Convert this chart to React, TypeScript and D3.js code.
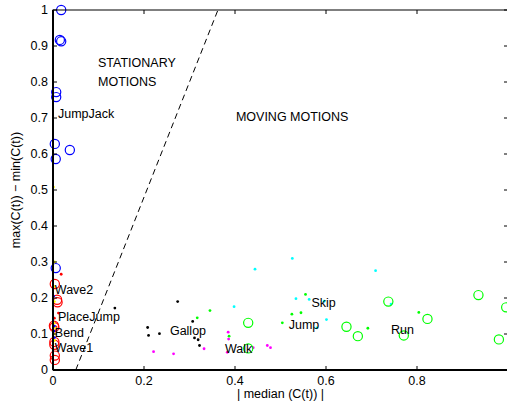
import React, { useEffect, useRef } from 'react';
import * as d3 from 'd3';

type Pt = [number, number];

// JumpJack (blue circles)
const jumpJack: Pt[] = [
  [0.018, 1.0], [0.015, 0.917], [0.018, 0.913], [0.007, 0.772], [0.007, 0.758],
  [0.004, 0.628], [0.037, 0.611], [0.006, 0.586], [0.006, 0.283],
];
// Wave1 / Wave2 / Bend (red circles)
const waveCircles: Pt[] = [
  [0.004, 0.239], [0.009, 0.195], [0.01, 0.188], [0.002, 0.123], [0.003, 0.119],
  [0.003, 0.078], [0.003, 0.07], [0.004, 0.04], [0.004, 0.028],
];
// Run (green circles)
const runCircles: Pt[] = [
  [0.429, 0.131], [0.429, 0.06], [0.645, 0.12], [0.67, 0.094], [0.737, 0.19],
  [0.771, 0.096], [0.823, 0.142], [0.935, 0.208], [0.98, 0.085], [0.996, 0.174],
];
// small dots
const redDots: Pt[] = [[0.018, 0.266], [0.003, 0.144], [0.012, 0.158], [0.006, 0.12]];
const yellowDots: Pt[] = [
  [0.001, 0.508], [0.003, 0.3], [0.002, 0.232], [0.003, 0.19], [0.002, 0.13],
  [0.004, 0.118], [0.002, 0.1], [0.003, 0.082],
];
const blueDots: Pt[] = [[0.001, 0.205], [0.003, 0.122], [0.002, 0.108], [0.003, 0.09]];
const gallop: Pt[] = [
  [0.136, 0.172], [0.274, 0.19], [0.208, 0.118], [0.21, 0.096], [0.234, 0.101],
  [0.307, 0.135], [0.311, 0.089], [0.319, 0.084], [0.322, 0.068],
];
const walk: Pt[] = [
  [0.221, 0.051], [0.265, 0.045], [0.332, 0.059], [0.385, 0.105], [0.386, 0.086],
  [0.383, 0.049], [0.44, 0.062], [0.471, 0.068], [0.478, 0.062],
];
const jump: Pt[] = [
  [0.317, 0.145], [0.345, 0.165], [0.387, 0.094], [0.504, 0.131], [0.525, 0.155],
  [0.545, 0.159], [0.555, 0.21], [0.692, 0.116], [0.804, 0.16],
];
const skip: Pt[] = [
  [0.526, 0.31], [0.444, 0.28], [0.398, 0.176], [0.534, 0.198], [0.563, 0.196],
  [0.596, 0.191], [0.709, 0.276], [0.743, 0.183], [0.601, 0.14], [0.58, 0.117],
];

const labels: { text: string; x: number; y: number }[] = [
  { text: 'JumpJack', x: 0.011, y: 0.7 },
  { text: 'Wave2', x: 0.004, y: 0.21 },
  { text: 'PlaceJump', x: 0.011, y: 0.135 },
  { text: 'Bend', x: 0.004, y: 0.093 },
  { text: 'Wave1', x: 0.004, y: 0.049 },
  { text: 'Gallop', x: 0.257, y: 0.098 },
  { text: 'Walk', x: 0.378, y: 0.048 },
  { text: 'Jump', x: 0.518, y: 0.115 },
  { text: 'Skip', x: 0.568, y: 0.175 },
  { text: 'Run', x: 0.743, y: 0.101 },
  { text: 'STATIONARY', x: 0.099, y: 0.843 },
  { text: 'MOTIONS', x: 0.099, y: 0.788 },
  { text: 'MOVING MOTIONS', x: 0.402, y: 0.693 },
];

const boundary: Pt[] = [[0.05, 0], [0.3625, 1]];
const xTicks = [0, 0.2, 0.4, 0.6, 0.8, 1];
const xTickLabels = ['0', '0.2', '0.4', '0.6', '0.8'];
const yTicks = d3.range(0, 1.01, 0.1).map((v) => +v.toFixed(1));

const W = 507;
const H = 409;
const margin = { left: 53, top: 10, right: 508, bottom: 370 };

const App = () => {
  const ref = useRef<SVGSVGElement>(null);

  useEffect(() => {
    const svg = d3.select(ref.current);
    svg.selectAll('*').remove();
    const font = '"Liberation Sans", Arial, Helvetica, sans-serif';

    const x = d3.scaleLinear().domain([0, 1]).range([margin.left, margin.right]);
    const y = d3.scaleLinear().domain([0, 1]).range([margin.bottom, margin.top]);

    svg.append('rect').attr('width', W).attr('height', H).attr('fill', '#fff');

    const plot = svg.append('g');

    // separation line
    plot
      .append('path')
      .attr('d', d3.line<Pt>().x((d) => x(d[0])).y((d) => y(d[1]))(boundary))
      .attr('stroke', '#000')
      .attr('fill', 'none')
      .attr('stroke-dasharray', '6,4');

    const dots = (data: Pt[], color: string) =>
      plot
        .selectAll(null)
        .data(data)
        .enter()
        .append('circle')
        .attr('cx', (d) => x(d[0]))
        .attr('cy', (d) => y(d[1]))
        .attr('r', 1.4)
        .attr('fill', color);

    const rings = (data: Pt[], color: string) =>
      plot
        .selectAll(null)
        .data(data)
        .enter()
        .append('circle')
        .attr('cx', (d) => x(d[0]))
        .attr('cy', (d) => y(d[1]))
        .attr('r', 4.6)
        .attr('fill', 'none')
        .attr('stroke', color)
        .attr('stroke-width', 1.2);

    dots(gallop, '#000');
    dots(walk, '#ff00ff');
    dots(jump, '#00ff00');
    dots(skip, '#00ffff');
    rings(runCircles, '#00ff00');
    rings(jumpJack, '#0000ff');
    rings(waveCircles, '#ff0000');
    dots(redDots, '#ff0000');
    dots(yellowDots, '#ffff00');
    dots(blueDots, '#0000ff');

    plot
      .selectAll(null)
      .data(labels)
      .enter()
      .append('text')
      .attr('x', (d) => x(d.x))
      .attr('y', (d) => y(d.y))
      .attr('font-family', font)
      .attr('font-size', 12.5)
      .attr('fill', '#000')
      .text((d) => d.text);

    // frame
    const axes = svg.append('g');
    axes
      .append('rect')
      .attr('x', margin.left)
      .attr('y', margin.top)
      .attr('width', margin.right - margin.left)
      .attr('height', margin.bottom - margin.top)
      .attr('fill', 'none')
      .attr('stroke', '#000')
      .attr('stroke-width', 1);
    axes
      .append('line')
      .attr('x1', margin.left)
      .attr('x2', margin.left)
      .attr('y1', margin.top)
      .attr('y2', margin.bottom)
      .attr('stroke', '#000')
      .attr('stroke-width', 2);
    axes
      .append('line')
      .attr('x1', margin.left)
      .attr('x2', margin.right)
      .attr('y1', margin.bottom)
      .attr('y2', margin.bottom)
      .attr('stroke', '#000')
      .attr('stroke-width', 2);

    const tl = 4;
    xTicks.forEach((t) => {
      axes.append('line').attr('x1', x(t)).attr('x2', x(t)).attr('y1', margin.bottom).attr('y2', margin.bottom - tl).attr('stroke', '#000');
      axes.append('line').attr('x1', x(t)).attr('x2', x(t)).attr('y1', margin.top).attr('y2', margin.top + tl).attr('stroke', '#000');
    });
    xTickLabels.forEach((t) => {
      axes
        .append('text')
        .attr('x', x(+t))
        .attr('y', margin.bottom + 15)
        .attr('text-anchor', 'middle')
        .attr('font-family', font)
        .attr('font-size', 12.5)
        .text(t);
    });
    yTicks.forEach((t) => {
      axes.append('line').attr('x1', margin.left).attr('x2', margin.left + tl).attr('y1', y(t)).attr('y2', y(t)).attr('stroke', '#000');
      axes.append('line').attr('x1', margin.right).attr('x2', margin.right - tl).attr('y1', y(t)).attr('y2', y(t)).attr('stroke', '#000');
      axes
        .append('text')
        .attr('x', margin.left - 5)
        .attr('y', y(t) + 4)
        .attr('text-anchor', 'end')
        .attr('font-family', font)
        .attr('font-size', 12.5)
        .text(String(t));
    });

    svg
      .append('text')
      .attr('x', (margin.left + margin.right) / 2)
      .attr('y', 398)
      .attr('text-anchor', 'middle')
      .attr('font-family', font)
      .attr('font-size', 12.5)
      .text('| median (C(t)) |');

    svg
      .append('text')
      .attr('transform', `translate(20,${(margin.top + margin.bottom) / 2}) rotate(-90)`)
      .attr('text-anchor', 'middle')
      .attr('font-family', font)
      .attr('font-size', 12.5)
      .text('max(C(t)) \u2212 min(C(t))');
  }, []);

  return (
    <svg
      ref={ref}
      width={W}
      height={H}
      style={{ position: 'absolute', left: 0, top: 0 }}
    />
  );
};

export default App;
